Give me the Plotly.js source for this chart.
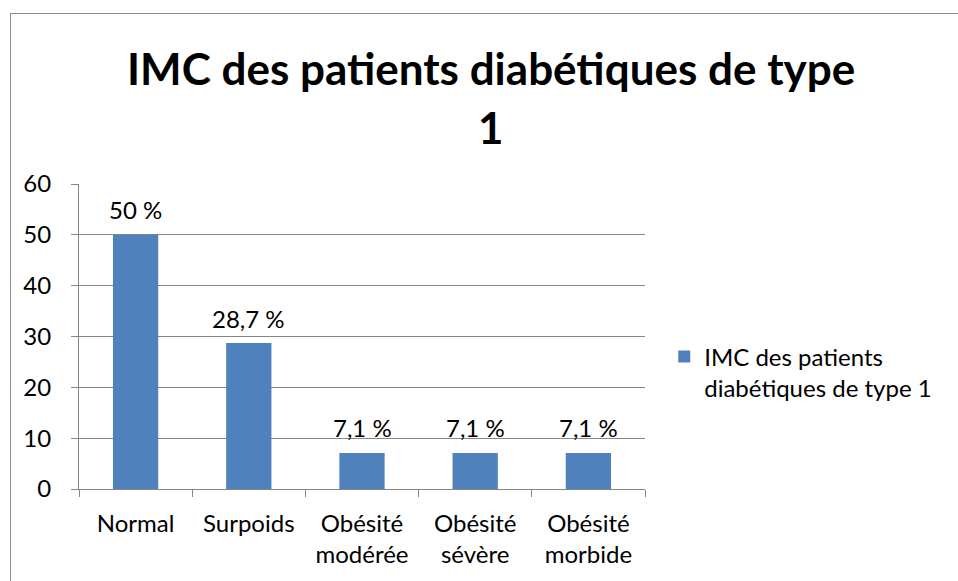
<!DOCTYPE html>
<html>
<head>
<meta charset="utf-8">
<script src="https://cdn.plot.ly/plotly-3.0.1.min.js"></script>
<style>
html,body{margin:0;padding:0;background:#fff;}
#frame{position:absolute;left:10px;top:13px;width:960px;height:580px;border-left:1px solid #8c8c8c;border-top:1px solid #8c8c8c;}
#chart{position:absolute;left:0;top:0;width:958px;height:581px;}
</style>
</head>
<body>
<div id="frame"></div>
<div id="chart"></div>
<script>
var categories = ["Normal", "Surpoids", "Obésité<br>modérée", "Obésité<br>sévère", "Obésité<br>morbide"];
var values = [50, 28.7, 7.1, 7.1, 7.1];
var valueLabels = ["50 %", "28,7 %", "7,1 %", "7,1 %", "7,1 %"];
var seriesName = "IMC des patients<br>diabétiques de type 1";
var titleLines = ["IMC des patients diabétiques de type", "1"];
var yTicks = [0, 10, 20, 30, 40, 50, 60];

var FONT = "Lato, 'Liberation Sans', sans-serif";
var FS = 24;

var trace = {
  type: "bar",
  x: categories,
  y: values,
  name: seriesName,
  marker: {color: "#4f81bd", line: {color: "#4f81bd", width: 0}},
  showlegend: true,
  hoverinfo: "none"
};

var annotations = [];
for (var i = 0; i < categories.length; i++) {
  annotations.push({
    x: categories[i], y: values[i], xref: "x", yref: "y",
    text: valueLabels[i], showarrow: false,
    xanchor: "center", yanchor: "middle", yshift: 25,
    font: {family: FONT, size: FS, color: "#000"}
  });
}
var titleY = [68, 127];
for (var j = 0; j < titleLines.length; j++) {
  annotations.push({
    x: 0.728, xref: "paper", xanchor: "center",
    y: (489 - titleY[j]) / 305, yref: "paper", yanchor: "middle",
    text: titleLines[j], showarrow: false,
    font: {family: FONT, size: 44, color: "#000", weight: "bold"}
  });
}

var layout = {
  width: 958, height: 581,
  paper_bgcolor: "rgba(0,0,0,0)",
  plot_bgcolor: "rgba(0,0,0,0)",
  margin: {l: 79, r: 313, t: 184, b: 92, pad: 0},
  bargap: 0.6,
  annotations: annotations,
  xaxis: {
    type: "category",
    showline: true, linecolor: "#868686", linewidth: 1,
    ticks: "outside", ticklen: 7, tickcolor: "#868686",
    tickson: "boundaries",
    tickfont: {family: FONT, size: FS, color: "#000"},
    ticklabelstandoff: 13,
    showgrid: false, zeroline: false
  },
  yaxis: {
    range: [0, 60],
    tickvals: yTicks,
    ticks: "outside", ticklen: 7, tickcolor: "#868686",
    showline: true, linecolor: "#868686", linewidth: 1,
    showgrid: true, gridcolor: "#868686", gridwidth: 1,
    zeroline: false,
    tickfont: {family: FONT, size: FS, color: "#000"},
    ticklabelstandoff: 15
  },
  legend: {
    x: 1.034, xanchor: "left", y: 0.382, yanchor: "middle",
    valign: "top",
    font: {family: FONT, size: FS, color: "#000"},
    bgcolor: "rgba(0,0,0,0)",
    itemwidth: 30
  },
  showlegend: true
};

Plotly.newPlot("chart", [trace], layout, {displayModeBar: false, staticPlot: true});
</script>
</body>
</html>
